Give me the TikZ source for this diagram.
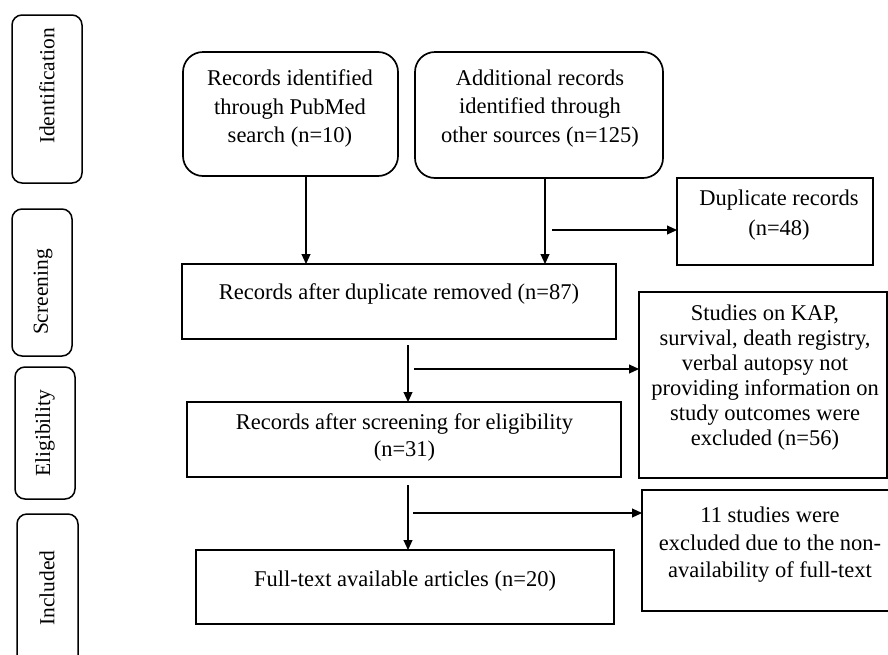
\documentclass[tikz,border=0pt]{standalone}
\usepackage{fontspec}
\setmainfont{Liberation Serif}
\usetikzlibrary{arrows.meta}
\begin{document}
\begin{tikzpicture}[x=1pt,y=-1pt,
  box/.style={draw, line width=1.7pt, inner sep=0pt, outer sep=0pt},
  rbox/.style={box, rounded corners=20pt},
  stagebox/.style={draw, line width=1.5pt, rounded corners=10pt, inner sep=0pt, outer sep=0pt},
  txt/.style={align=center, inner sep=0pt, font=\fontsize{22.5}{27.5}\selectfont},
  stagetxt/.style={inner sep=0pt, rotate=90, font=\fontsize{21.5}{24}\selectfont},
  conn/.style={line width=1.1pt, -{Triangle[length=10pt,width=9pt]}}
]
\useasboundingbox (0,0) rectangle (888,654);
\begin{scope}
\clip (0,0) rectangle (888,654);
% stage boxes
\node[stagebox, minimum width=70, minimum height=168] (sid) at (47,99) {};
\node[stagetxt] (tid) at (47,86) {Identification};
\node[stagebox, minimum width=60, minimum height=147] (ssc) at (42,282.5) {};
\node[stagetxt] (tsc) at (43,292) {Screening};
\node[stagebox, minimum width=60, minimum height=132] (sel) at (45,433) {};
\node[stagetxt] (tel) at (45,433) {Eligibility};
\node[stagebox, minimum width=61, minimum height=166] (sin) at (47.5,597) {};
\node[stagetxt] (tin) at (47,588) {Included};

% main boxes
\node[rbox, minimum width=215, minimum height=124] (b1) at (290.5,114) {};
\node[txt, font=\fontsize{22.5}{28.5}\selectfont] (t1) at (290,108.5) {Records identified\\through PubMed\\search (n=10)};
\node[rbox, minimum width=248, minimum height=126] (b2) at (539,115) {};
\node[txt, font=\fontsize{22.5}{28.5}\selectfont] (t2) at (540,108.5) {Additional records\\identified through\\other sources (n=125)};
\node[box, minimum width=196, minimum height=87] (dup) at (775,221.5) {};
\node[txt, font=\fontsize{22.5}{30}\selectfont] (tdup) at (779,215) {Duplicate records\\(n=48)};
\node[box, minimum width=434, minimum height=75] (rdup) at (399,301.5) {};
\node[txt] (trdup) at (399,294) {Records after duplicate removed (n=87)};
\node[box, minimum width=434, minimum height=75] (rscr) at (404,439.5) {};
\node[txt] (trscr) at (404.5,437.5) {Records after screening for eligibility\\(n=31)};
\node[box, minimum width=248, minimum height=186] (stud) at (763,385) {};
\node[txt, font=\fontsize{22.5}{25}\selectfont] (tstud) at (765,378) {Studies on KAP,\\survival, death registry,\\verbal autopsy not\\providing information on\\study outcomes were\\excluded (n=56)};
\node[box, minimum width=418, minimum height=74] (full) at (405,587) {};
\node[txt] (tfull) at (405,581) {Full-text available articles (n=20)};
\node[box, minimum width=256, minimum height=121] (elev) at (770,550.5) {};
\node[txt] (telev) at (770,545) {11 studies were\\excluded due to the non-\\availability of full-text};

% connectors
\coordinate (x1) at (306,0);
\coordinate (x2) at (545,0);
\coordinate (x3) at (408,0);
\coordinate (d1) at (552,230);
\coordinate (d2) at (414,369);
\coordinate (d3) at (413,513);
\draw[conn] (b1.south -| x1) -- (rdup.north -| x1);
\draw[conn] (b2.south -| x2) -- (rdup.north -| x2);
\draw[conn] (d1) -- (d1 -| dup.west);
\draw[conn] ([yshift=-6pt]rdup.south -| x3) -- (rscr.north -| x3);
\draw[conn] (d2) -- (d2 -| stud.west);
\draw[conn] ([yshift=-8pt]rscr.south -| x3) -- (full.north -| x3);
\draw[conn] (d3) -- (d3 -| elev.west);
\end{scope}
\end{tikzpicture}
\end{document}
